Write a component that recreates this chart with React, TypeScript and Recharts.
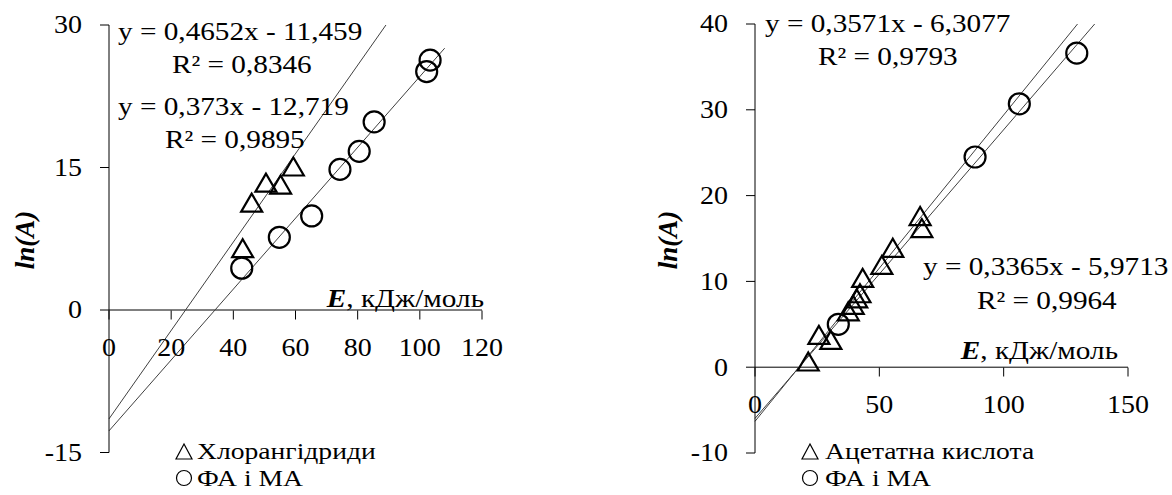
import { ScatterChart, Scatter, XAxis, YAxis, ReferenceLine } from 'recharts';

const FONT = '"Liberation Serif", "Times New Roman", serif';

// left panel: acid chlorides vs PA and MA
const chlorE = [43.0, 45.9, 50.5, 55.2, 59.3];
const chlorLnA = [6.4, 11.2, 13.3, 13.1, 15.0];
const faLeftE = [42.7, 54.8, 65.2, 74.3, 80.5, 85.3, 102.2, 103.3];
const faLeftLnA = [4.4, 7.65, 9.9, 14.8, 16.7, 19.8, 25.1, 26.3];
const leftXTicks = [0, 20, 40, 60, 80, 100, 120];
const leftYTicks = [-15, 0, 15, 30];
// trendline ends
const chlorTrend = [{ x: 0, y: -11.459 }, { x: 89.1, y: 30 }];
const faLeftTrend = [{ x: 0, y: -12.719 }, { x: 108, y: 27.56 }];

// right panel: acetic acid vs PA and MA
const acetE = [21.4, 25.7, 30.5, 37.5, 39.5, 40.9, 42.2, 43.3, 51.0, 55.4, 66.4, 67.1];
const acetLnA = [0.55, 3.65, 3.07, 6.4, 7.15, 7.9, 8.5, 10.3, 11.8, 13.8, 17.5, 16.1];
const faRightE = [33.5, 88.5, 106.3, 129.4];
const faRightLnA = [5.0, 24.5, 30.7, 36.6];
const rightXTicks = [0, 50, 100, 150];
const rightYTicks = [-10, 0, 10, 20, 30, 40];
const acetTrend = [{ x: 0, y: -6.3077 }, { x: 129.7, y: 40 }];
const faRightTrend = [{ x: 0, y: -5.9713 }, { x: 136.6, y: 40 }];

const zip = (xs: number[], ys: number[]) => xs.map((x, i) => ({ x, y: ys[i] }));

const Tri = (p: any) => (
  <polygon
    points={`${p.cx},${p.cy - 10} ${p.cx - 10.5},${p.cy + 8} ${p.cx + 10.5},${p.cy + 8}`}
    fill="none"
    stroke="#000"
    strokeWidth={2.2}
  />
);
const Circ = (p: any) => <circle cx={p.cx} cy={p.cy} r={10.5} fill="none" stroke="#000" strokeWidth={2.2} />;

function T({ x, y, anchor = 'start', size = 25, sx = 1.12, rotate = 0, baseline = 'central', bold = false, italic = false, children }: any) {
  return (
    <text
      transform={`translate(${x},${y}) rotate(${rotate}) scale(${sx},1)`}
      textAnchor={anchor}
      dominantBaseline={baseline}
      fontFamily={FONT}
      fontSize={size}
      fontWeight={bold ? 'bold' : 'normal'}
      fontStyle={italic ? 'italic' : 'normal'}
      fill="#000"
    >
      {children}
    </text>
  );
}

const makeXTick = (zeroY: number) => (props: any) => {
  const { x, payload } = props;
  return (
    <g>
      <line x1={x} x2={x} y1={zeroY} y2={zeroY + 9} stroke="#000" />
      <T x={x} y={zeroY + 37} anchor="middle">{payload.value}</T>
    </g>
  );
};

const YTick = (props: any) => {
  const { x, y, payload } = props;
  return <T x={x} y={y} anchor="end">{payload.value}</T>;
};

function Panel({ left, width, axisW, top, plotH, xDomain, xTicks, yDomain, yTicks, zeroY, tri, circ, triTrend, circTrend }: any) {
  const xh = 20;
  return (
    <div style={{ position: 'absolute', left, top: 0 }}>
      <ScatterChart
        width={width}
        height={495}
        margin={{ top, right: width - axisW - 373, bottom: 495 - top - plotH - xh, left: 0 }}
      >
        <XAxis
          type="number"
          dataKey="x"
          domain={xDomain}
          ticks={xTicks}
          interval={0}
          axisLine={false}
          tickLine={false}
          tick={makeXTick(zeroY)}
          height={xh}
        />
        <YAxis
          type="number"
          dataKey="y"
          domain={yDomain}
          ticks={yTicks}
          interval={0}
          width={axisW}
          tickSize={9}
          tickMargin={18}
          axisLine={{ stroke: '#000' }}
          tickLine={{ stroke: '#000' }}
          tick={YTick}
        />
        <ReferenceLine y={0} stroke="#000" strokeWidth={1} />
        <ReferenceLine segment={triTrend} stroke="#404040" strokeWidth={1} ifOverflow="visible" />
        <ReferenceLine segment={circTrend} stroke="#404040" strokeWidth={1} ifOverflow="visible" />
        <Scatter data={tri} shape={Tri} isAnimationActive={false} />
        <Scatter data={circ} shape={Circ} isAnimationActive={false} />
      </ScatterChart>
    </div>
  );
}

export default function App() {
  return (
    <div style={{ position: 'absolute', left: 0, top: 0, width: 1172, height: 495, background: '#fff', overflow: 'hidden' }}>
      <Panel
        left={0}
        width={600}
        axisW={109}
        top={25}
        plotH={427.5}
        xDomain={[0, 120]}
        xTicks={leftXTicks}
        yDomain={[-15, 30]}
        yTicks={leftYTicks}
        zeroY={310.5}
        tri={zip(chlorE, chlorLnA)}
        circ={zip(faLeftE, faLeftLnA)}
        triTrend={chlorTrend}
        circTrend={faLeftTrend}
      />
      <Panel
        left={600}
        width={572}
        axisW={155}
        top={24}
        plotH={429}
        xDomain={[0, 150]}
        xTicks={rightXTicks}
        yDomain={[-10, 40]}
        yTicks={rightYTicks}
        zeroY={367.5}
        tri={zip(acetE, acetLnA)}
        circ={zip(faRightE, faRightLnA)}
        triTrend={acetTrend}
        circTrend={faRightTrend}
      />
      <svg width={1172} height={495} style={{ position: 'absolute', left: 0, top: 0, pointerEvents: 'none' }}>
        {/* left panel annotations */}
        <T x={118} y={32} sx={1.17}>y = 0,4652x - 11,459</T>
        <T x={172} y={65} sx={1.17}>R² = 0,8346</T>
        <T x={118} y={107} sx={1.17}>y = 0,373x - 12,719</T>
        <T x={165} y={140} sx={1.17}>R² = 0,9895</T>
        <T x={484} y={307} anchor="end" baseline="alphabetic" sx={1.17}>
          <tspan fontWeight="bold" fontStyle="italic">E</tspan>, кДж/моль
        </T>
        <T x={25} y={240} anchor="middle" rotate={-90} sx={1} size={27} bold italic>ln(A)</T>
        <polygon points="184,444 176,459 192,459" fill="none" stroke="#000" strokeWidth={1.2} />
        <T x={197} y={451} size={24} sx={1.15}>Хлорангідриди</T>
        <circle cx={184} cy={478} r={7.5} fill="none" stroke="#000" strokeWidth={1.2} />
        <T x={197} y={478} size={24} sx={1.15}>ФА і МА</T>

        {/* right panel annotations */}
        <T x={765} y={24} sx={1.17}>y = 0,3571x - 6,3077</T>
        <T x={818} y={57} sx={1.17}>R² = 0,9793</T>
        <T x={923} y={267} sx={1.17}>y = 0,3365x - 5,9713</T>
        <T x={977} y={301} sx={1.17}>R² = 0,9964</T>
        <T x={1118} y={359} anchor="end" baseline="alphabetic" sx={1.17}>
          <tspan fontWeight="bold" fontStyle="italic">E</tspan>, кДж/моль
        </T>
        <T x={668} y={240} anchor="middle" rotate={-90} sx={1} size={27} bold italic>ln(A)</T>
        <polygon points="810,444 802,459 818,459" fill="none" stroke="#000" strokeWidth={1.2} />
        <T x={825} y={451} size={24} sx={1.15}>Ацетатна кислота</T>
        <circle cx={810} cy={478} r={7.5} fill="none" stroke="#000" strokeWidth={1.2} />
        <T x={825} y={478} size={24} sx={1.15}>ФА і МА</T>
      </svg>
    </div>
  );
}
